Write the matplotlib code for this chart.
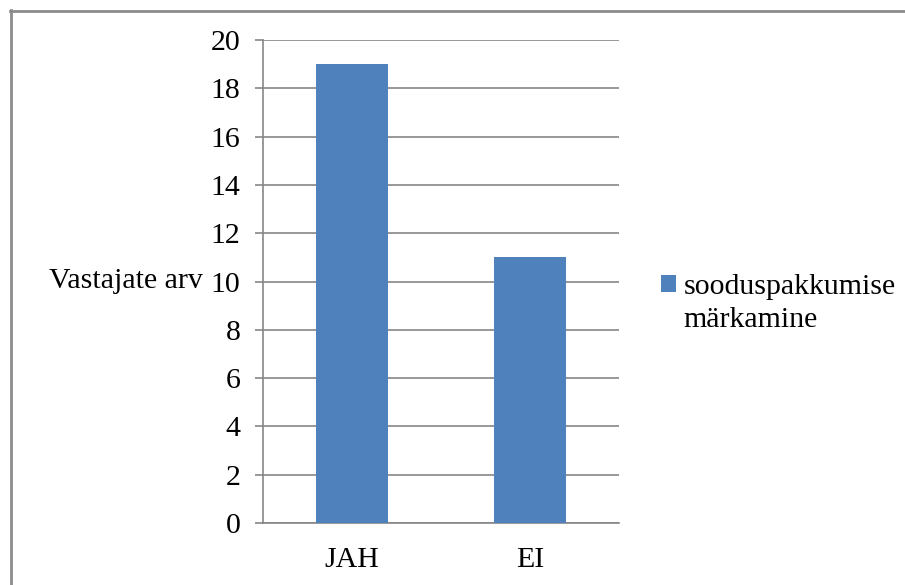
import matplotlib
matplotlib.use('Agg')
import matplotlib.pyplot as plt
from matplotlib.lines import Line2D
from matplotlib.patches import Patch

categories = ['JAH', 'EI']
counts = [19, 11]
series_name = ['sooduspakkumise', 'märkamine']
y_ticks = [0, 2, 4, 6, 8, 10, 12, 14, 16, 18, 20]

BAR_COLOR = '#4F81BD'
GRID_COLOR = '#868686'

plt.rcParams['font.family'] = 'serif'
plt.rcParams['font.serif'] = ['Liberation Serif', 'DejaVu Serif']
plt.rcParams['font.size'] = 21.5

W, H = 905, 585
fig = plt.figure(figsize=(W / 100, H / 100), dpi=100)
ax = fig.add_axes([263 / W, 1 - 523 / H, (619 - 263) / W, (523 - 40) / H])

x = list(range(len(categories)))
ax.bar(x, counts, width=0.4, color=BAR_COLOR, zorder=3)

ax.set_xlim(-0.5, len(categories) - 0.5)
ax.set_ylim(0, 20)
ax.set_yticks(y_ticks)
ax.set_xticks(x)
ax.set_xticklabels(categories)
ax.grid(axis='y', color=GRID_COLOR, lw=1.2, zorder=0)

for side in ('top', 'right'):
    ax.spines[side].set_visible(False)
for side in ('left', 'bottom'):
    ax.spines[side].set_color(GRID_COLOR)
    ax.spines[side].set_linewidth(1.2)

ax.tick_params(axis='y', length=5.8, width=1.2, color=GRID_COLOR, pad=10.5)
ax.tick_params(axis='x', length=0, pad=17)

ax.set_ylabel('Vastajate arv', rotation=0, ha='right', va='center')
ax.yaxis.set_label_coords(-0.169, 0.5)

# series name wraps onto a second line under the colour box
handles = [Patch(facecolor=BAR_COLOR, edgecolor='none'),
           Patch(facecolor='none', edgecolor='none')]
fig.legend(handles, series_name, loc='upper left',
           bbox_to_anchor=(661 / W, 1 - 274 / H), frameon=False,
           handlelength=0.5, handleheight=0.5, handletextpad=0.25,
           labelspacing=0.22, borderaxespad=0, borderpad=0)

# outer frame of the chart area
fig.add_artist(Line2D([10 / W, 1], [1 - 10.5 / H] * 2, color='#8c8c8c', lw=2))
fig.add_artist(Line2D([10.5 / W] * 2, [0, 1 - 10 / H], color='#8c8c8c', lw=2))

fig.savefig('out.png', dpi=100)
